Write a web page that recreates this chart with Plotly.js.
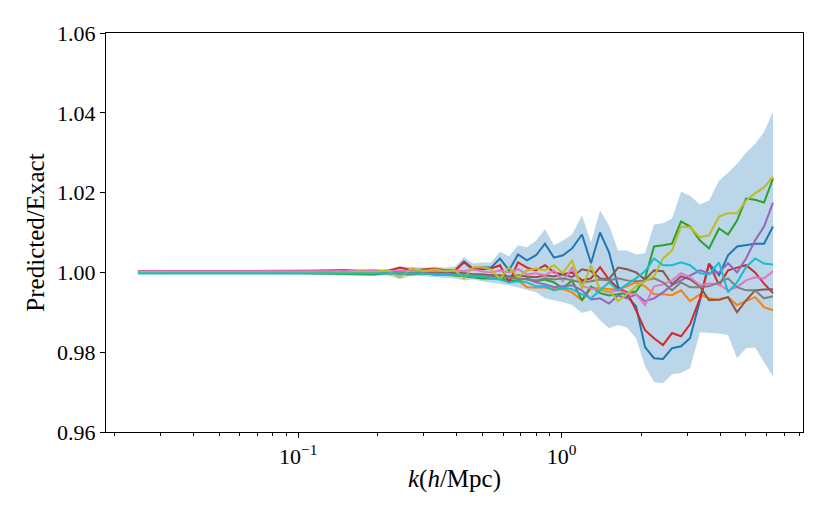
<!DOCTYPE html>
<html>
<head>
<meta charset="utf-8">
<script src="https://cdn.plot.ly/plotly-3.0.1.min.js"></script>
<style>
  html, body { margin: 0; padding: 0; background: #fff; }
  #ratio-plot { width: 830px; height: 519px; }
</style>
</head>
<body>
<div id="ratio-plot"></div>
<script>
/* ratio of predicted to exact power spectrum, ten runs plus spread band */
var k = [0.02462, 0.02985, 0.03617, 0.04385, 0.05314, 0.06442, 0.07805, 0.0930, 0.1108, 0.1297,
         0.1504, 0.1715, 0.1939, 0.2171, 0.2432, 0.2701, 0.3000, 0.3304, 0.3636, 0.3934,
         0.4256, 0.4605, 0.4981, 0.5389, 0.5832, 0.6308, 0.6825, 0.7384, 0.7988, 0.8642,
         0.9349, 1.011, 1.094, 1.194, 1.292, 1.398, 1.512, 1.636, 1.770, 1.915,
         2.072, 2.241, 2.424, 2.623, 2.838, 3.070, 3.350, 3.625, 3.956, 4.280,
         4.630, 5.009, 5.419, 5.862, 6.342];

var bandHigh = [1.0006, 1.0006, 1.0006, 1.0006, 1.0006, 1.0006, 1.0006, 1.0006, 1.0007, 1.0007,
                1.0008, 1.0008, 1.0008, 1.0008, 1.0015, 1.0013, 1.0012, 1.0013, 1.0012, 1.0015,
                1.0038, 1.0022, 1.0025, 1.0025, 1.0052, 1.0040, 1.0068, 1.0063, 1.0080, 1.0108,
                1.0068, 1.0080, 1.0095, 1.0143, 1.0075, 1.0155, 1.0118, 1.0055, 1.0055, 1.0045,
                1.0048, 1.0120, 1.0123, 1.0135, 1.0202, 1.0192, 1.0170, 1.0180, 1.0230, 1.0250,
                1.0272, 1.0300, 1.0322, 1.0352, 1.0402];
var bandLow = [0.9994, 0.9994, 0.9994, 0.9994, 0.9994, 0.9994, 0.9994, 0.9994, 0.9993, 0.9993,
               0.9992, 0.9992, 0.9991, 0.9993, 0.9983, 0.9992, 0.9990, 0.9988, 0.9988, 0.9985,
               0.9980, 0.9982, 0.9978, 0.9975, 0.9972, 0.9968, 0.9962, 0.9955, 0.9950, 0.9935,
               0.9930, 0.9925, 0.9918, 0.9898, 0.9905, 0.9880, 0.9860, 0.9868, 0.9862, 0.9835,
               0.9765, 0.9725, 0.9722, 0.9745, 0.9748, 0.9760, 0.9850, 0.9848, 0.9847, 0.9843,
               0.9785, 0.9810, 0.9812, 0.9775, 0.9740];

var run0 = [1.0003, 1.0003, 1.0003, 1.0003, 1.0003, 1.0003, 1.0003, 1.0003, 1.0003, 1.0002,
            1.0002, 1.0002, 1.0002, 1.0002, 1.0002, 1.0002, 1.0005, 1.0005, 1.0005, 1.0005,
            1.0028, 1.0010, 1.0012, 1.0012, 1.0035, 1.0005, 1.0045, 1.0030, 1.0043, 1.0072,
            1.0037, 1.0043, 1.0060, 1.0095, 1.0023, 1.0100, 1.0050, 0.9965, 0.9940, 0.9915,
            0.9813, 0.9785, 0.9783, 0.9810, 0.9815, 0.9835, 0.9930, 1.0022, 0.9993, 1.0043,
            1.0065, 1.0068, 1.0072, 1.0072, 1.0115];
var run1 = [1.0002, 1.0002, 1.0002, 1.0002, 1.0002, 1.0002, 1.0002, 1.0002, 1.0002, 1.0001,
            1.0001, 1.0001, 1.0001, 1.0000, 0.9998, 0.9998, 0.9997, 0.9995, 0.9995, 0.9993,
            0.9995, 0.9990, 0.9988, 0.9985, 0.9985, 0.9978, 0.9980, 0.9963, 0.9962, 0.9962,
            0.9958, 0.9958, 0.9950, 0.9930, 0.9960, 0.9960, 0.9958, 0.9958, 0.9965, 0.9975,
            0.9965, 0.9945, 0.9945, 0.9943, 0.9955, 0.9928, 0.9945, 0.9935, 0.9930, 0.9938,
            0.9918, 0.9928, 0.9938, 0.9913, 0.9905];
var run2 = [1.0000, 1.0000, 1.0000, 1.0000, 1.0000, 0.9999, 0.9999, 0.9999, 0.9998, 0.9997,
            0.9996, 0.9997, 0.9995, 0.9998, 0.9997, 0.9995, 0.9998, 0.9995, 0.9995, 0.9992,
            0.9990, 0.9988, 0.9985, 0.9985, 0.9985, 0.9980, 0.9980, 0.9985, 0.9978, 0.9982,
            0.9975, 0.9960, 0.9980, 0.9930, 0.9965, 0.9948, 0.9942, 0.9945, 0.9948, 0.9952,
            0.9985, 1.0065, 1.0068, 1.0072, 1.0128, 1.0115, 1.0080, 1.0060, 1.0110, 1.0095,
            1.0130, 1.0185, 1.0182, 1.0175, 1.0235];
var run3 = [1.0003, 1.0003, 1.0003, 1.0003, 1.0003, 1.0004, 1.0004, 1.0004, 1.0004, 1.0005,
            1.0006, 1.0003, 1.0004, 1.0003, 1.0012, 1.0005, 1.0008, 1.0010, 1.0005, 1.0005,
            1.0025, 1.0008, 1.0008, 1.0010, 1.0018, 0.9975, 1.0025, 1.0012, 1.0005, 1.0018,
            1.0000, 0.9995, 1.0000, 0.9980, 0.9985, 1.0013, 0.9982, 0.9960, 0.9950, 0.9905,
            0.9855, 0.9835, 0.9818, 0.9848, 0.9840, 0.9870, 0.9935, 1.0022, 0.9968, 1.0005,
            1.0012, 1.0018, 1.0000, 0.9972, 0.9948];
var run4 = [1.0002, 1.0002, 1.0002, 1.0002, 1.0002, 1.0002, 1.0002, 1.0003, 1.0003, 1.0003,
            1.0003, 1.0003, 1.0003, 1.0002, 1.0002, 1.0000, 1.0000, 0.9998, 1.0000, 0.9998,
            0.9998, 0.9995, 0.9995, 0.9993, 0.9990, 0.9988, 0.9985, 0.9983, 0.9975, 0.9970,
            0.9963, 0.9965, 0.9968, 0.9955, 0.9932, 0.9935, 0.9922, 0.9942, 0.9935, 0.9945,
            0.9928, 0.9935, 0.9950, 0.9968, 0.9980, 0.9990, 1.0005, 0.9998, 1.0000, 1.0023,
            1.0000, 1.0035, 1.0080, 1.0115, 1.0175];
var run5 = [1.0001, 1.0001, 1.0001, 1.0001, 1.0001, 1.0001, 1.0001, 1.0001, 1.0001, 1.0001,
            1.0001, 1.0001, 1.0001, 1.0001, 1.0000, 0.9998, 1.0000, 0.9998, 1.0000, 0.9998,
            0.9998, 0.9995, 0.9995, 0.9993, 0.9993, 0.9990, 0.9993, 0.9990, 0.9988, 0.9993,
            0.9990, 0.9995, 0.9988, 1.0008, 1.0003, 0.9985, 0.9983, 1.0012, 1.0008, 1.0000,
            0.9982, 1.0005, 1.0003, 0.9970, 0.9990, 0.9983, 0.9965, 0.9930, 0.9932, 0.9938,
            0.9900, 0.9930, 0.9955, 0.9957, 0.9958];
var run6 = [1.0002, 1.0002, 1.0002, 1.0002, 1.0002, 1.0002, 1.0003, 1.0003, 1.0003, 1.0003,
            1.0004, 1.0004, 1.0005, 1.0003, 1.0005, 1.0003, 1.0005, 1.0003, 1.0005, 1.0005,
            1.0003, 1.0008, 1.0003, 1.0000, 1.0005, 1.0000, 1.0008, 0.9995, 0.9998, 0.9993,
            1.0005, 0.9978, 1.0012, 0.9965, 0.9960, 0.9955, 0.9950, 0.9955, 0.9948, 0.9945,
            0.9918, 0.9965, 0.9970, 0.9980, 0.9998, 0.9988, 0.9968, 0.9972, 0.9970, 0.9955,
            0.9963, 0.9980, 0.9988, 0.9985, 1.0003];
var run7 = [1.0000, 1.0000, 1.0000, 1.0000, 1.0000, 1.0000, 1.0000, 1.0000, 1.0000, 1.0000,
            1.0000, 1.0000, 1.0000, 1.0000, 0.9999, 0.9998, 0.9998, 0.9996, 0.9997, 0.9995,
            0.9995, 0.9993, 0.9992, 0.9990, 0.9990, 0.9988, 0.9985, 0.9983, 0.9980, 0.9985,
            0.9982, 0.9985, 0.9980, 0.9975, 0.9978, 0.9982, 0.9980, 0.9985, 0.9980, 0.9978,
            0.9980, 0.9985, 0.9975, 0.9955, 0.9975, 0.9963, 0.9963, 0.9965, 0.9975, 0.9985,
            0.9963, 0.9955, 0.9955, 0.9935, 0.9940];
var run8 = [1.0001, 1.0001, 1.0001, 1.0001, 1.0001, 1.0001, 1.0001, 1.0001, 1.0001, 1.0000,
            1.0000, 1.0002, 1.0001, 1.0005, 0.9988, 1.0010, 1.0003, 1.0008, 1.0003, 1.0005,
            0.9985, 1.0013, 1.0013, 1.0008, 0.9983, 1.0013, 0.9988, 1.0005, 1.0010, 1.0005,
            1.0018, 0.9998, 1.0030, 0.9960, 1.0018, 0.9955, 0.9955, 0.9928, 0.9945, 0.9965,
            0.9978, 0.9990, 1.0035, 1.0055, 1.0115, 1.0113, 1.0088, 1.0093, 1.0140, 1.0148,
            1.0148, 1.0180, 1.0198, 1.0213, 1.0240];
var run9 = [0.9998, 0.9998, 0.9998, 0.9998, 0.9998, 0.9998, 0.9998, 0.9998, 0.9998, 0.9998,
            0.9998, 0.9998, 0.9998, 0.9998, 0.9998, 0.9997, 0.9997, 0.9995, 0.9995, 0.9993,
            0.9993, 0.9990, 0.9990, 0.9985, 0.9982, 0.9975, 0.9978, 0.9975, 0.9965, 0.9965,
            0.9955, 0.9962, 0.9958, 0.9945, 0.9935, 0.9955, 0.9975, 0.9955, 0.9970, 0.9985,
            1.0003, 1.0035, 1.0018, 1.0018, 1.0025, 1.0018, 0.9998, 0.9995, 1.0025, 0.9950,
            0.9975, 1.0013, 1.0035, 1.0022, 1.0020];

var runs = [run0, run1, run2, run3, run4, run5, run6, run7, run8, run9];
var colors = ['#1f77b4', '#ff7f0e', '#2ca02c', '#d62728', '#9467bd',
              '#8c564b', '#e377c2', '#7f7f7f', '#bcbd22', '#17becf'];

var yTicks = [0.96, 0.98, 1.00, 1.02, 1.04, 1.06];
var xTicks = [0.1, 1];
var xTickText = ['10<sup>\u22121</sup>', '10<sup>0</sup>'];

var serif = '"Liberation Serif", "DejaVu Serif", serif';

var data = [];
// shaded spread first so the lines sit on top
data.push({
    x: k, y: bandLow, mode: 'lines', type: 'scatter',
    line: {width: 0, color: 'rgba(31,119,180,0)'},
    hoverinfo: 'skip', showlegend: false
});
data.push({
    x: k, y: bandHigh, mode: 'lines', type: 'scatter',
    fill: 'tonexty', fillcolor: 'rgba(31,119,180,0.3)',
    line: {width: 0, color: 'rgba(31,119,180,0)'},
    hoverinfo: 'skip', showlegend: false
});
for (var i = 0; i < runs.length; i++) {
    data.push({
        x: k, y: runs[i], mode: 'lines', type: 'scatter',
        line: {color: colors[i], width: 2},
        showlegend: false
    });
}

var layout = {
    width: 830, height: 519,
    margin: {l: 106, r: 27, t: 33, b: 87},
    paper_bgcolor: '#fff', plot_bgcolor: '#fff',
    font: {family: serif, color: '#000', size: 22},
    xaxis: {
        type: 'log',
        range: [-1.730, 0.916],
        tickmode: 'array', tickvals: xTicks, ticktext: xTickText,
        ticks: 'outside', ticklen: 5, tickwidth: 1, tickcolor: '#000',
        minor: {ticks: 'outside', ticklen: 3, tickwidth: 1, tickcolor: '#000', dtick: 'D1'},
        showgrid: false, zeroline: false,
        showline: true, mirror: true, linecolor: '#000', linewidth: 1,
        tickfont: {family: serif, size: 22},
        title: {text: '<i>k</i>(<i>h</i>/Mpc)', font: {family: serif, size: 25}, standoff: 1}
    },
    yaxis: {
        range: [0.96, 1.06],
        tickmode: 'array', tickvals: yTicks, tickformat: '.2f',
        ticks: 'outside', ticklen: 5, tickwidth: 1, tickcolor: '#000',
        showgrid: false, zeroline: false,
        showline: true, mirror: true, linecolor: '#000', linewidth: 1,
        tickfont: {family: serif, size: 22},
        title: {text: 'Predicted/Exact', font: {family: serif, size: 25}, standoff: 5}
    }
};

Plotly.newPlot('ratio-plot', data, layout, {displayModeBar: false, staticPlot: true});
</script>
</body>
</html>
